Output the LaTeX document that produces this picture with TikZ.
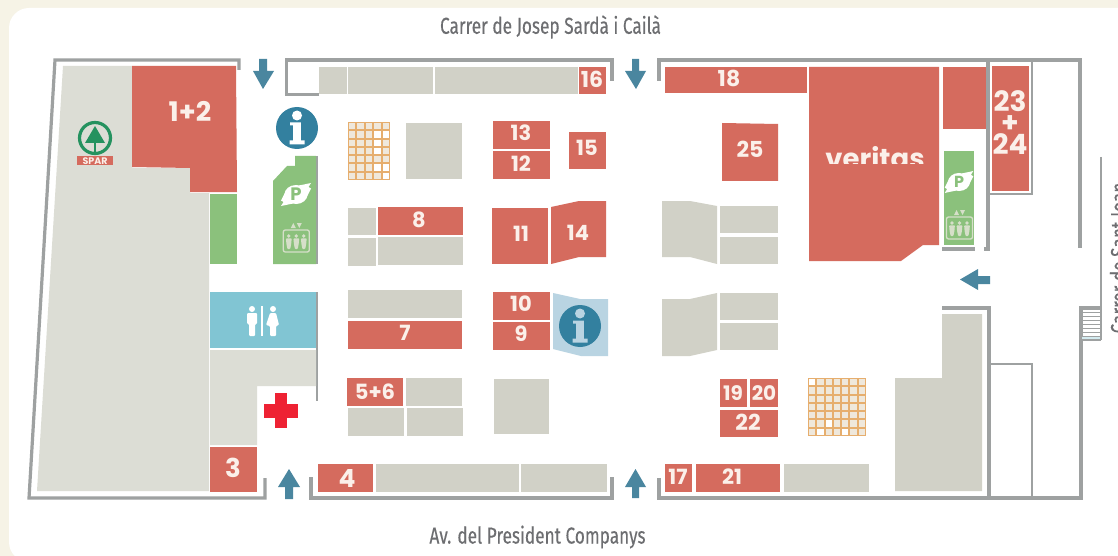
\documentclass[tikz,border=0pt]{standalone}
\usepackage{fontspec}
\newfontfamily\numf{Poppins}
\newfontfamily\streetf[FakeStretch=0.75,FakeBold=0.25]{Fira Sans}
\definecolor{cream}{HTML}{F6F3E6}
\definecolor{rd}{HTML}{D56B5E}
\definecolor{gy}{HTML}{D1D1C7}
\definecolor{gyl}{HTML}{DCDDD5}
\definecolor{gn}{HTML}{8BC17C}
\definecolor{bl}{HTML}{33809F}
\definecolor{arrowc}{HTML}{4A869F}
\definecolor{wc}{HTML}{81C5D3}
\definecolor{lbl}{HTML}{B9D4E2}
\definecolor{org}{HTML}{E6AE6E}
\definecolor{cellc}{HTML}{EFE8DC}
\definecolor{wall}{HTML}{9EA1A1}
\definecolor{numc}{HTML}{FBF0EA}
\definecolor{street}{HTML}{6D6E71}
\definecolor{spargreen}{HTML}{25925F}
\definecolor{iconl}{HTML}{D6DFC9}
\definecolor{crossc}{HTML}{EE2233}
\tikzset{
  room/.style={fill=rd},
  shopgrey/.style={fill=gy},
  wallline/.style={draw=wall,line width=3.2pt,line cap=butt,line join=miter},
  thinwall/.style={draw=wall,line width=2.2pt},
  arrowshape/.style={fill=arrowc},
  num/.style={text=numc,inner sep=0pt,align=center},
  streetlabel/.style={text=street,inner sep=0pt}
}
\newcommand{\numlabel}[4]{\node[num,font={\numf\bfseries\fontsize{#3}{#3}\selectfont}] (#1) at (#2) {#4};}
\newcommand{\infomark}[3]{%
  \begin{scope}[shift={(#1,#2)}]
    \fill[bl] (0,0) circle (21);
    \fill[#3] (0,-12.5) circle (5);
    \fill[#3] (-7,-5.5) -- (3.8,-5.5) -- (3.8,12.5) -- (7.5,12.5) -- (7.5,16.5) -- (-7.5,16.5) -- (-7.5,12.5) -- (-3.8,12.5) -- (-3.8,-2.5) -- (-7,-2.5) -- cycle;
  \end{scope}}
\newcommand{\person}[2]{%
  \fill[#2] (#1,-5) circle (1.9);
  \fill[#2,rounded corners=0.8] (#1-2.9,-2.7) -- (#1+2.9,-2.7) -- (#1+2.4,3) -- (#1+1.4,8) -- (#1-1.4,8) -- (#1-2.4,3) -- cycle;}
\newcommand{\lifticon}[2]{%
  \begin{scope}[shift={(#1,#2)}]
    \draw[iconl,line width=1.3pt,rounded corners=2] (-13,-11) rectangle (13,11);
    \person{-7.5}{iconl}\person{0}{iconl}\person{7.5}{iconl}
    \fill[iconl] (-5.5,-13) -- (-0.5,-13) -- (-3,-18) -- cycle;
    \fill[iconl] (0.5,-18) -- (5.5,-18) -- (3,-13) -- cycle;
  \end{scope}}
\newcommand{\parkicon}[5]{%
  \begin{scope}[shift={(#1,#2)},scale=#3]
    \fill[white] (0,0) ellipse (11.5 and 9.5);
    \fill[white] (3,-9) -- (15,-11.5) -- (12.5,-7.5) -- (15,-6) -- (10.5,3) -- cycle;
    \fill[white] (-3,9) -- (-15,11.5) -- (-12.5,7.5) -- (-15,6) -- (-10.5,-3) -- cycle;
  \end{scope}
  \node[inner sep=0pt,text=gn,font={\numf\bfseries\fontsize{#5}{#5}\selectfont}] (#4) at (#1,#2) {P};}
\newcommand{\gridblock}[7]{%
  \fill[org] (#1,#2) rectangle (#3,#4);
  \pgfmathsetmacro{\cw}{(#3-#1)/#5}
  \pgfmathsetmacro{\ch}{(#4-#2)/#6}
  \foreach \i in {1,...,#5}{\foreach \j in {1,...,#6}{
    \fill[cellc] ({#1+(\i-1)*\cw+1},{#2+(\j-1)*\ch+1}) rectangle ({#1+\i*\cw-1},{#2+\j*\ch-1});}}
  \foreach \i/\j in {#7}{
    \fill[white] ({#1+(\i-1)*\cw+1},{#2+(\j-1)*\ch+1}) rectangle ({#1+\i*\cw-1},{#2+\j*\ch-1});}}
\begin{document}
\begin{tikzpicture}[x=1pt,y=-1pt]
\useasboundingbox (0,0) rectangle (1118,556);
\clip (0,0) rectangle (1118,556);
\fill[cream] (0,0) rectangle (1118,556);
\fill[white,rounded corners=20] (9,8) rectangle (1160,562);

% walls
\draw[wallline] (239,70) -- (239,60) -- (55,60) -- (29,498) -- (265,498) -- (265,478);
\draw[wallline] (319,94.5) -- (286.5,94.5) -- (286.5,60) -- (612,60) -- (612,81);
\draw[wallline] (659,81) -- (659,60) -- (1080,60) -- (1080,248);
\draw[wallline] (988,60) -- (988,249) -- (984,249);
\draw[wallline] (942,249) -- (975,249);
\draw[thinwall] (1032,60) -- (1032,194) -- (988,194);
\draw[wallline] (311,477) -- (311,498) -- (612,498) -- (612,477);
\draw[wallline] (942,308) -- (989,308) -- (989,497);
\draw[wallline] (659,478) -- (659,498) -- (1081,498) -- (1081,308) -- (1101,308);
\draw[thinwall] (989,364) -- (1032,364) -- (1032,497);
\draw[thinwall] (317,156) -- (317,264);
\draw[thinwall] (317,292) -- (317,401);
% stairs
\fill[white] (1083,310) rectangle (1101,340);
\foreach \y in {312,316,...,336}{\draw[wall,line width=0.9pt] (1082,\y) -- (1101,\y);}
\fill[wc!35] (1082,336.5) rectangle (1101,340);
\draw[wall,line width=1.3pt] (1101,157) -- (1101,340);
\draw[wall,line width=1.1pt] (1082,340) -- (1101,340);

% Spar block
\fill[gyl] (63,66) -- (132,66) -- (132,168) -- (190,168) -- (190,193) -- (209,193) -- (209,491) -- (37,491) -- cycle;
\fill[room] (132,66) -- (236,66) -- (237,192) -- (190,192) -- (190,168) -- (132,167) -- cycle;
\numlabel{n12}{190,111}{27}{1+2}
\fill[gn] (210,194) rectangle (237,264);
% Spar logo
\draw[spargreen,line width=3.2pt] (95,138) circle (15.5);
\fill[spargreen] (95,126) -- (105,143) -- (85,143) -- cycle;
\fill[spargreen] (93.6,143) rectangle (96.4,152);
\fill[rd] (77,156.5) rectangle (113,165);
\node[inner sep=0pt,text=numc,font={\numf\bfseries\fontsize{9.5}{9.5}\selectfont}] (spar) at (95,161) {SPAR};

% left lift + parking block
\fill[gn] (295,156) -- (316,156) -- (316,264) -- (273,264) -- (273,181) -- (287,166) -- (295,166) -- cycle;
\parkicon{296}{194.5}{1}{pleft}{18}
\lifticon{296.3}{241}
\infomark{297}{128}{white}

% WC
\fill[wc] (210,292) rectangle (316,348);
\begin{scope}[shift={(262,306)}]
  \fill[white] (-10,3) circle (3);
  \fill[white,rounded corners=1] (-15,7) -- (-5,7) -- (-5,18) -- (-7,18) -- (-7,30) -- (-13,30) -- (-13,18) -- (-15,18) -- cycle;
  \fill[white] (-0.8,0) rectangle (0.8,30);
  \fill[white] (11,3) circle (3);
  \fill[white,rounded corners=1] (8,7) -- (14,7) -- (17,19) -- (14,20) -- (14,30) -- (8,30) -- (8,20) -- (4,19) -- cycle;
\end{scope}
\fill[gyl] (210,350) -- (316,350) -- (316,386) -- (257,386) -- (257,445) -- (210,445) -- cycle;
\fill[room] (210,447) rectangle (257,492);
\numlabel{n3}{233,468}{26}{3}
\fill[crossc] (275,393) rectangle (287,428);
\fill[crossc] (264,404) rectangle (298,418);

% top row
\fill[shopgrey] (319,67) rectangle (347,94);
\fill[shopgrey] (348,67) rectangle (433,94);
\fill[shopgrey] (435,67) rectangle (578,94);
\fill[room] (579,67) rectangle (606,94);
\numlabel{n16}{592,79}{22}{16}

% grids
\gridblock{348}{122}{390}{180}{5}{7}{4/2,5/2,4/3,4/4,4/6,5/6,5/7}
\gridblock{808}{378}{866}{436}{7}{7}{1/1,3/6,2/7,5/7}

% centre left
\fill[shopgrey] (406,123) rectangle (462,179);
\fill[room] (493,121) rectangle (550,149);
\fill[room] (493,151) rectangle (550,179);
\numlabel{n13}{521,133}{21}{13}
\numlabel{n12b}{521,164}{21}{12}
\fill[room] (569,132) rectangle (606,169);
\numlabel{n15}{587,148}{21}{15}

\fill[shopgrey] (348,208) rectangle (376,235);
\fill[shopgrey] (348,238) rectangle (376,266);
\fill[room] (378,207) rectangle (463,235);
\numlabel{n8}{419,220}{21}{8}
\fill[shopgrey] (378,237) rectangle (463,265);
\fill[shopgrey] (348,290) rectangle (462,318);
\fill[room] (348,321) rectangle (462,349);
\numlabel{n7}{405,333}{21}{7}

\fill[room] (492,208) rectangle (548,264);
\numlabel{n11}{521,234}{21}{11}
\fill[room] (551,207) -- (579,201) -- (606,201) -- (606,257) -- (579,257) -- (551,264) -- cycle;
\numlabel{n14}{578,233}{21}{14}
\fill[room] (493,292) rectangle (550,320);
\numlabel{n10}{521,304}{21}{10}
\fill[room] (493,322) rectangle (550,350);
\numlabel{n9}{521,334}{21}{9}
\fill[lbl] (553,293) -- (580,299) -- (608,299) -- (608,356) -- (581,356) -- (553,349) -- cycle;
\infomark{580}{326}{lbl}

% lower left
\fill[room] (347,378) rectangle (403,406);
\numlabel{n56}{375,392}{21}{5+6}
\fill[shopgrey] (406,378) rectangle (462,406);
\fill[shopgrey] (348,408) rectangle (404,436);
\fill[shopgrey] (407,408) rectangle (463,436);
\fill[shopgrey] (494,379) rectangle (549,434);
\fill[room] (318,464) rectangle (373,492);
\numlabel{n4}{347,478}{25}{4}
\fill[shopgrey] (376,464) rectangle (519,492);
\fill[shopgrey] (521,464) rectangle (607,492);

% centre right
\fill[shopgrey] (662,201) -- (690,201) -- (717,206) -- (717,264) -- (690,257) -- (662,257) -- cycle;
\fill[shopgrey] (720,206) rectangle (778,233);
\fill[shopgrey] (720,237) rectangle (778,264);
\fill[shopgrey] (662,299) -- (690,299) -- (717,293) -- (717,350) -- (690,356) -- (662,356) -- cycle;
\fill[shopgrey] (720,293) rectangle (778,320);
\fill[shopgrey] (720,323) rectangle (778,350);

\fill[room] (665,67) rectangle (807,93);
\numlabel{n18}{729,78}{22}{18}
\fill[room] (722,123) -- (778,124) -- (778,181) -- (722,181) -- cycle;
\numlabel{n25}{750,149}{22}{25}
\fill[room] (720,379) rectangle (747,407);
\numlabel{n19}{733,393}{20}{19}
\fill[room] (750,379) rectangle (778,407);
\numlabel{n20}{764,393}{20}{20}
\fill[room] (720,410) rectangle (778,437);
\numlabel{n22}{748,422}{22}{22}
\fill[room] (665,464) rectangle (692,492);
\numlabel{n17}{678,477}{21}{17}
\fill[room] (696,464) rectangle (780,492);
\numlabel{n21}{732,477}{21}{21}
\fill[shopgrey] (784,464) rectangle (869,492);
\fill[shopgrey] (942,314) -- (982,314) -- (982,491) -- (895,491) -- (895,378) -- (942,378) -- cycle;

% Veritas block
\fill[room] (809,67) -- (939,67) -- (939,245) -- (923,245) -- (901,261) -- (809,261) -- cycle;
\begin{scope}
  \clip (810,140) rectangle (938,164);
  \node[text=numc,inner sep=0pt,anchor=base,font={\numf\bfseries\fontsize{27.5}{28}\selectfont}] (veritas) at (875,169) {veritas};
\end{scope}
\fill[room] (943,67) rectangle (986,129);
\fill[room] (992,66) rectangle (1029,191);
\node[num,font={\numf\bfseries\fontsize{28}{20.5}\selectfont}] (n2324) at (1010,122.5) {23\\+\\24};
\fill[gn] (944,151) rectangle (974,245);
\parkicon{959}{182}{0.95}{pright}{16}
\lifticon{959.5}{228}

% arrows
\fill[arrowshape] (259,59) -- (267,59) -- (267,71) -- (274,71) -- (263,89) -- (253,71) -- (259,71) -- cycle;
\fill[arrowshape] (632,59) -- (639,59) -- (639,71) -- (646,71) -- (636,89) -- (625,71) -- (632,71) -- cycle;
\fill[arrowshape] (285,499) -- (293,499) -- (293,487) -- (300,487) -- (289,469) -- (278,487) -- (285,487) -- cycle;
\fill[arrowshape] (632,498) -- (639,498) -- (639,487) -- (646,487) -- (635.5,469) -- (625,487) -- (632,487) -- cycle;
\fill[arrowshape] (990,276) -- (990,284) -- (978,284) -- (978,290) -- (960,279.5) -- (978,269) -- (978,276) -- cycle;

% street names
\node[streetlabel,font={\streetf\fontsize{23}{23}\selectfont}] (topstreet) at (550.5,27) {Carrer de Josep Sardà i Cailà};
\node[streetlabel,font={\streetf\fontsize{23}{23}\selectfont}] (botstreet) at (537.5,537) {Av. del President Companys};
\node[streetlabel,rotate=90,anchor=base,font={\streetf\fontsize{23}{23}\selectfont}] (sidestreet) at (1127,258) {Carrer de Sant Joan};
\end{tikzpicture}
\end{document}
